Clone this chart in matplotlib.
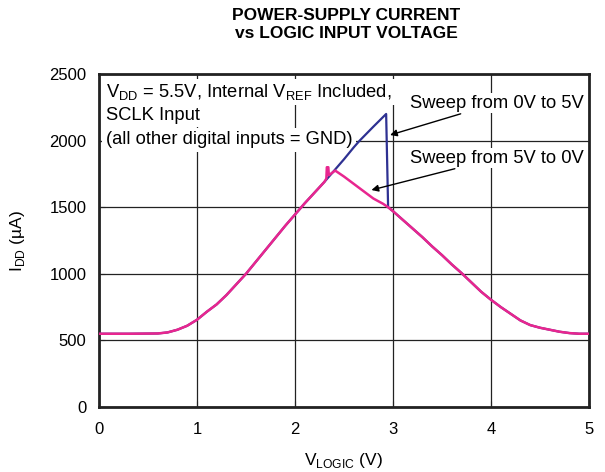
import numpy as np
import matplotlib.pyplot as plt

plt.rcParams['font.family'] = ['Liberation Sans', 'DejaVu Sans']

# shared part of both sweeps (rising edge)
v_rise = [0.0, 0.3, 0.6, 0.7, 0.8, 0.9, 1.0, 1.1, 1.2, 1.3, 1.4, 1.5, 1.6, 1.7,
          1.8, 1.9, 2.0, 2.1, 2.2, 2.3]
i_rise = [550, 550, 552, 560, 580, 610, 655, 715, 770, 840, 920, 1000, 1090, 1180,
          1270, 1360, 1445, 1530, 1610, 1690]

# shared part of both sweeps (falling edge)
v_fall = [2.95, 3.0, 3.1, 3.2, 3.3, 3.4, 3.5, 3.6, 3.7, 3.8, 3.9, 4.0, 4.1, 4.2,
          4.3, 4.4, 4.5, 4.6, 4.7, 4.8, 4.9, 5.0]
i_fall = [1500, 1470, 1405, 1340, 1275, 1205, 1140, 1070, 1005, 935, 865, 805, 750, 700,
          650, 615, 595, 580, 565, 555, 550, 550]

# sweep 0V -> 5V, hysteresis section
v_up_mid = [2.4, 2.5, 2.6, 2.66, 2.8, 2.93]
i_up_mid = [1775, 1860, 1950, 2000, 2105, 2200]

# sweep 5V -> 0V, hysteresis section
v_down_mid = [2.32, 2.325, 2.34, 2.345, 2.41, 2.5, 2.6, 2.7, 2.8, 2.9]
i_down_mid = [1715, 1800, 1800, 1740, 1775, 1730, 1675, 1620, 1565, 1525]

v_up = v_rise + v_up_mid + v_fall
i_up = i_rise + i_up_mid + i_fall
v_down = v_rise + v_down_mid + v_fall
i_down = i_rise + i_down_mid + i_fall

note_lines = ['V$_{\\mathregular{DD}}$ = 5.5V, Internal V$_{\\mathregular{REF}}$ Included,',
              'SCLK Input',
              '(all other digital inputs = GND)']
note_y = [2365, 2192, 2005]

fig = plt.figure(figsize=(6.05, 4.72), dpi=100)
ax = fig.add_axes([0.1636, 0.1377, 0.81, 0.7055])

ax.plot(v_up, i_up, color='#2e3192', lw=1.6, zorder=3)
ax.plot(v_down, i_down, color='#e8268f', lw=1.8, zorder=4)

ax.set_xlim(0, 5)
ax.set_ylim(0, 2500)
ax.set_xticks(np.arange(0, 6, 1))
ax.set_yticks(np.arange(0, 3000, 500))
ax.grid(True, color='#222222', lw=0.9)
ax.set_axisbelow(True)
ax.tick_params(direction='in', length=4, labelsize=12, color='#222222')
ax.tick_params(axis='x', pad=11)
ax.tick_params(axis='y', pad=9)
for s in ax.spines.values():
    s.set_linewidth(2)
    s.set_color('#222222')

ax.set_xlabel('V$_{\\mathregular{LOGIC}}$ (V)', fontsize=12.5, labelpad=10)
ax.set_ylabel('I$_{\\mathregular{DD}}$ (µA)', fontsize=12.5, labelpad=16)

fig.suptitle('POWER-SUPPLY CURRENT\nvs LOGIC INPUT VOLTAGE', x=0.572, y=0.982,
             fontsize=12.5, fontweight='bold', linespacing=1.2)

# each line of the note has its own white background
for txt, yy in zip(note_lines, note_y):
    ax.text(0.07, yy, txt, ha='left', va='center', fontsize=13.2,
            bbox=dict(facecolor='white', edgecolor='none', pad=2.5), zorder=2.5)

ax.annotate('Sweep from 0V to 5V', xy=(2.97, 2042), xytext=(3.17, 2282),
            ha='left', va='center', fontsize=13.2,
            bbox=dict(facecolor='white', edgecolor='none', pad=1),
            arrowprops=dict(arrowstyle='-|>', color='black', lw=1, shrinkA=2, shrinkB=0,
                            mutation_scale=10), zorder=6)
ax.annotate('Sweep from 5V to 0V', xy=(2.78, 1629), xytext=(3.17, 1869),
            ha='left', va='center', fontsize=13.2,
            bbox=dict(facecolor='white', edgecolor='none', pad=1),
            arrowprops=dict(arrowstyle='-|>', color='black', lw=1, shrinkA=2, shrinkB=0,
                            mutation_scale=10), zorder=6)

plt.savefig('out.png', dpi=100)
